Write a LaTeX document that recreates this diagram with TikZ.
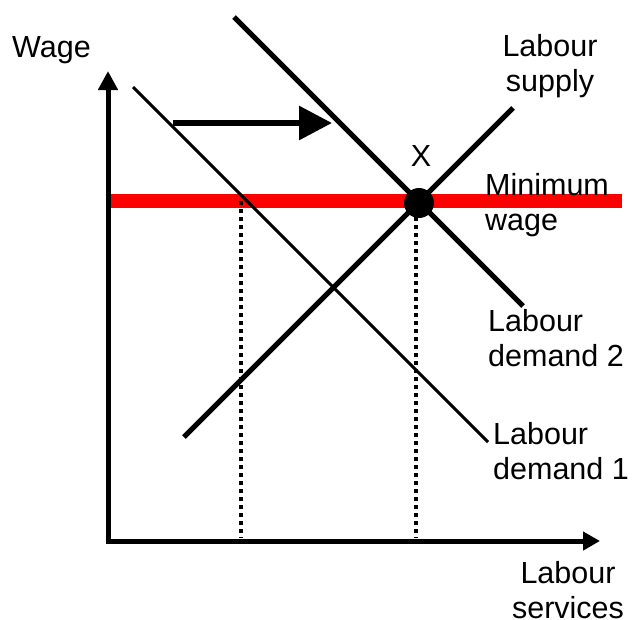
\documentclass[tikz,border=0pt]{standalone}
\usepackage{fontspec}
\setmainfont{Liberation Sans}
\usetikzlibrary{arrows.meta}
\tikzset{
  lbl/.style={inner sep=0pt, font=\fontsize{30.5}{35}\selectfont},
  axis/.style={line width=5pt, line join=miter},
  curvethick/.style={line width=5pt},
  curvethin/.style={line width=3pt},
  guide/.style={line width=3.3pt, dash pattern=on 4pt off 4pt},
  minwage/.style={line width=14pt, draw={rgb,255:red,255;green,0;blue,0}},
}
\begin{document}
\begin{tikzpicture}[x=1pt,y=-1pt]
\useasboundingbox (0,0) rectangle (635,619);
% coordinates
\coordinate (ytip) at (108,71);
\coordinate (origin) at (108,541);
\coordinate (xtip) at (600,541);
\coordinate (mwL) at (108,201);
\coordinate (mwR) at (622,201);
\coordinate (d1a) at (133,87);
\coordinate (d1b) at (488,442);
\coordinate (d2a) at (234,17);
\coordinate (d2b) at (523,306);
\coordinate (sa) at (184,437);
\coordinate (sb) at (513,108);
\coordinate (shA) at (173,123);
\coordinate (shB) at (332,123);
\coordinate (q1top) at (241,201);
\coordinate (q1bot) at (241,538);
\coordinate (q2top) at (416,201);
\coordinate (q2bot) at (416,538);
% minimum wage line
\draw[minwage] (mwL) -- (mwR);
% dotted guides
\draw[guide] (q1top) -- (q1bot);
\draw[guide] (q2top) -- (q2bot);
% curves
\draw[curvethin] (d1a) -- (d1b);
\draw[curvethick] (d2a) -- (d2b);
\draw[curvethick] (sa) -- (sb);
% shift arrow
\draw[line width=6pt, -{Triangle[length=33pt,width=33pt]}] (shA) -- (shB);
% axes
\draw[axis, {Triangle[length=19pt,width=19pt]}-{Triangle[length=17pt,width=18pt]}] (ytip) -- (origin) -- (xtip);
% equilibrium dot
\node[circle, fill=black, minimum size=30pt, inner sep=0pt] (eq) at (419,203) {};
% labels
\node[lbl, anchor=north west] (wage) at (12,36) {Wage};
\node[lbl, anchor=north, align=center] (supply) at (550,34) {Labour\\supply};
\node[lbl, anchor=north] (xlab) at (421,145.5) {X};
\node[lbl, anchor=north west, align=left] (minw) at (485,173) {Minimum\\wage};
\node[lbl, anchor=north west, align=left] (dem2) at (488,309) {Labour\\demand 2};
\node[lbl, anchor=north west, align=left] (dem1) at (493,422) {Labour\\demand 1};
\node[lbl, anchor=north, align=center] (serv) at (568,561) {Labour\\services};
\end{tikzpicture}
\end{document}
